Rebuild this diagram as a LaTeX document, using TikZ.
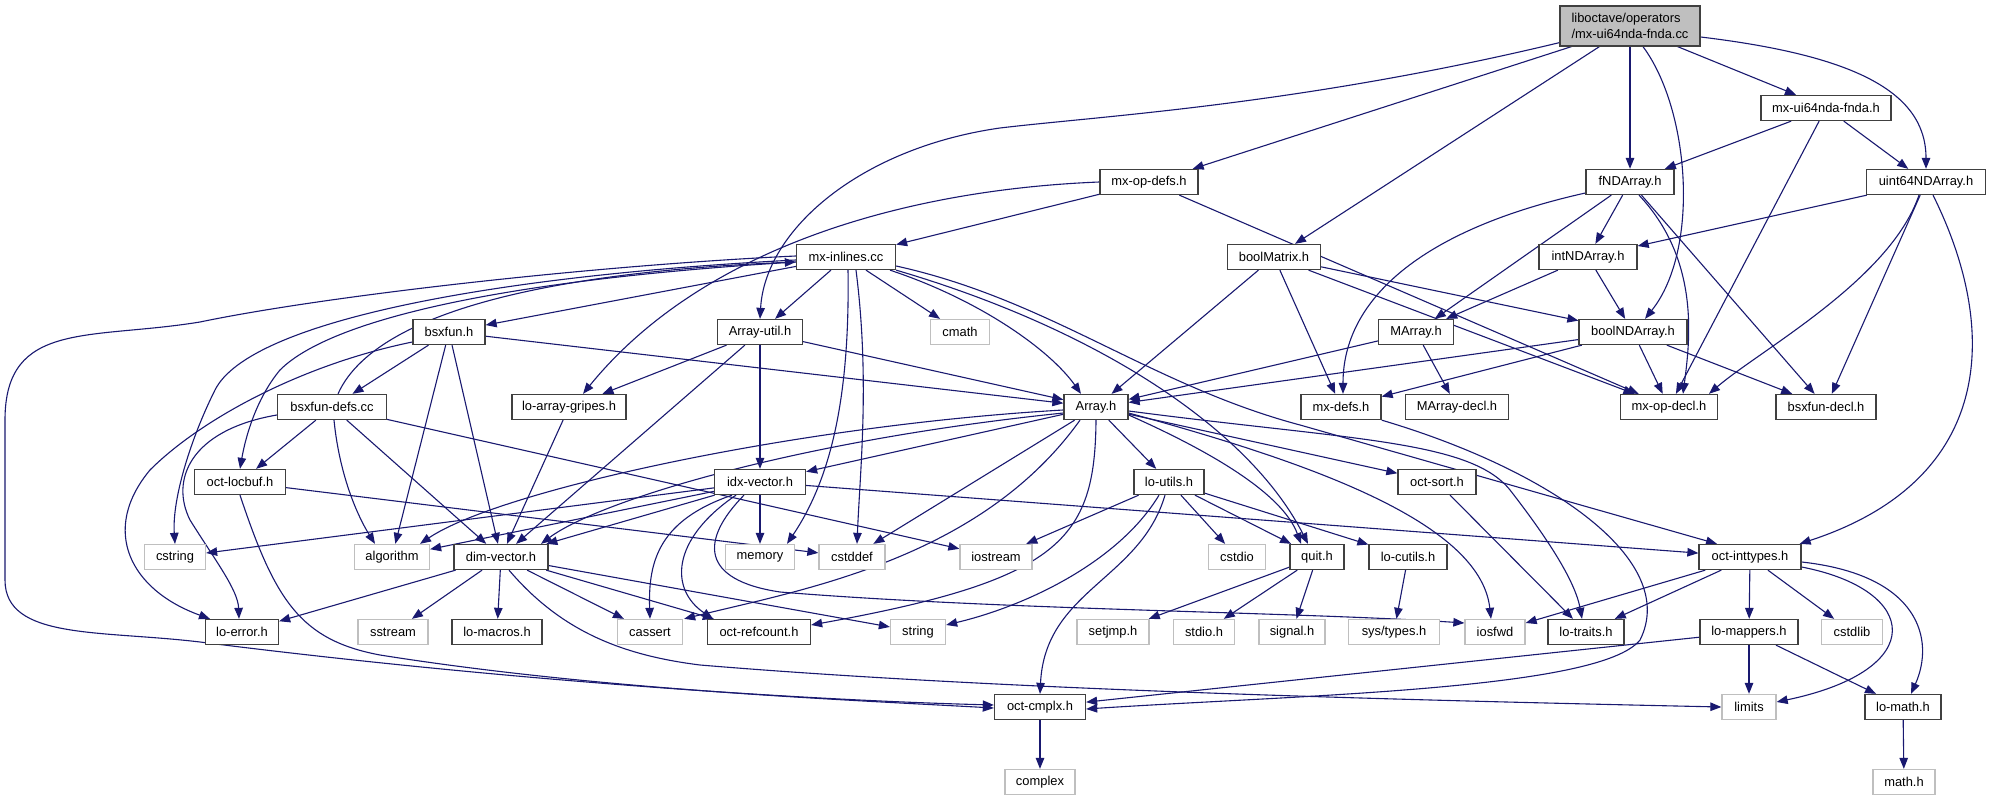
\documentclass[tikz,border=0pt]{standalone}
\usepackage{fontspec}
\setmainfont{Liberation Sans}
\usetikzlibrary{arrows.meta}
\definecolor{edgec}{RGB}{25,25,112}
\definecolor{nbord}{RGB}{64,64,64}
\definecolor{gbord}{RGB}{191,191,191}
\definecolor{rootfill}{RGB}{191,191,191}
\pgfdeclarelayer{bg}
\pgfsetlayers{bg,main}
\begin{document}
\begin{tikzpicture}[x=1pt,y=-1pt,
  hdr/.style={draw=nbord, line width=1.3pt, fill=white, minimum height=25pt, inner sep=0pt, font=\fontsize{12.9}{15.5}\selectfont},
  sys/.style={hdr, draw=gbord},
  e/.style={draw=edgec, line width=1.1pt, -{Triangle[length=11pt,width=8.5pt]}}]
\useasboundingbox (0,0) rectangle (1991,799);
% nodes
\node[hdr, fill=rootfill, minimum width=140pt, minimum height=40pt, align=left] (root) at (1630,26) {liboctave/operators\\/mx-ui64nda-fnda.cc};
\node[hdr, minimum width=130pt] (mxh) at (1826,108) {mx-ui64nda-fnda.h};
\node[hdr, minimum width=98pt] (mxopdefs) at (1149,182) {mx-op-defs.h};
\node[hdr, minimum width=88pt] (fnd) at (1630,182) {fNDArray.h};
\node[hdr, minimum width=119pt] (u64) at (1926,182) {uint64NDArray.h};
\node[hdr, minimum width=99pt] (mxinl) at (846,257) {mx-inlines.cc};
\node[hdr, minimum width=93pt] (boolm) at (1274,257) {boolMatrix.h};
\node[hdr, minimum width=98pt] (intnd) at (1588,257) {intNDArray.h};
\node[hdr, minimum width=72pt] (bsxfun) at (449,332) {bsxfun.h};
\node[hdr, minimum width=85pt] (arrutil) at (760,332) {Array-util.h};
\node[sys, minimum width=59pt] (cmath) at (960,332) {cmath};
\node[hdr, minimum width=75pt] (marray) at (1416,332) {MArray.h};
\node[hdr, minimum width=108pt] (boolnd) at (1633,332) {boolNDArray.h};
\node[hdr, minimum width=109pt] (bsxdefs) at (332,407) {bsxfun-defs.cc};
\node[hdr, minimum width=114pt] (gripes) at (569,407) {lo-array-gripes.h};
\node[hdr, minimum width=64pt] (arrayh) at (1096,407) {Array.h};
\node[hdr, minimum width=80pt] (mxdefs) at (1341,407) {mx-defs.h};
\node[hdr, minimum width=103pt] (marrdecl) at (1457,407) {MArray-decl.h};
\node[hdr, minimum width=97pt] (mxopdecl) at (1669,407) {mx-op-decl.h};
\node[hdr, minimum width=100pt] (bsxdecl) at (1826,407) {bsxfun-decl.h};
\node[hdr, minimum width=91pt] (locbuf) at (240,482) {oct-locbuf.h};
\node[hdr, minimum width=91pt] (idx) at (760,482) {idx-vector.h};
\node[hdr, minimum width=70pt] (loutils) at (1169,482) {lo-utils.h};
\node[hdr, minimum width=78pt] (octsort) at (1437,482) {oct-sort.h};
\node[sys, minimum width=61pt] (cstring) at (175,557) {cstring};
\node[sys, minimum width=75pt] (algorithm) at (392,557) {algorithm};
\node[hdr, minimum width=94pt] (dimvec) at (501,557) {dim-vector.h};
\node[sys, minimum width=69pt] (memory) at (760,557) {memory};
\node[sys, minimum width=66pt] (cstddef) at (852,557) {cstddef};
\node[sys, minimum width=72pt] (iostream) at (996,557) {iostream};
\node[sys, minimum width=57pt] (cstdio) at (1237,557) {cstdio};
\node[hdr, minimum width=54pt] (quit) at (1317,557) {quit.h};
\node[hdr, minimum width=78pt] (locutils) at (1408,557) {lo-cutils.h};
\node[hdr, minimum width=102pt] (inttypes) at (1750,557) {oct-inttypes.h};
\node[hdr, minimum width=73pt] (loerror) at (242,632) {lo-error.h};
\node[sys, minimum width=70pt] (sstream) at (393,632) {sstream};
\node[hdr, minimum width=90pt] (lomacros) at (497,632) {lo-macros.h};
\node[sys, minimum width=65pt] (cassert) at (650,632) {cassert};
\node[hdr, minimum width=103pt] (refcount) at (759,632) {oct-refcount.h};
\node[sys, minimum width=55pt] (string) at (918,632) {string};
\node[sys, minimum width=72pt] (setjmp) at (1113,632) {setjmp.h};
\node[sys, minimum width=61pt] (stdio) at (1204,632) {stdio.h};
\node[sys, minimum width=66pt] (signal) at (1292,632) {signal.h};
\node[sys, minimum width=91pt] (systypes) at (1394,632) {sys/types.h};
\node[sys, minimum width=60pt] (iosfwd) at (1495,632) {iosfwd};
\node[hdr, minimum width=76pt] (lotraits) at (1586,632) {lo-traits.h};
\node[hdr, minimum width=98pt] (lomappers) at (1749,632) {lo-mappers.h};
\node[sys, minimum width=61pt] (cstdlib) at (1852,632) {cstdlib};
\node[hdr, minimum width=91pt] (cmplx) at (1040,707) {oct-cmplx.h};
\node[sys, minimum width=54pt] (limits) at (1749,707) {limits};
\node[hdr, minimum width=76pt] (lomath) at (1903,707) {lo-math.h};
\node[sys, minimum width=70pt] (complex) at (1040,782) {complex};
\node[sys, minimum width=62pt] (mathh) at (1904,782) {math.h};
\begin{pgfonlayer}{bg}
\fill[white] (0,0) rectangle (1991,799);
% root
\draw[e] ([yshift=4pt]root.south west) .. controls (1300,105) and (1100,116) .. (1000,128) .. controls (860,148) and (765,230) .. (arrutil.north);
\draw[e] ([xshift=12pt]root.south west) -- ([xshift=-6pt]mxopdefs.north east);
\draw[e] ([xshift=40pt]root.south west) -- ([xshift=21pt]boolm.north);
\draw[e] (root) -- (fnd);
\draw[e] ([xshift=13pt]root.south) .. controls (1690,110) and (1700,250) .. ([xshift=12pt]boolnd.north);
\draw[e] ([xshift=-23pt]root.south east) -- ([xshift=-30pt]mxh.north);
\draw[e] ([yshift=-11pt]root.east) .. controls (1850,55) and (1926,90) .. (u64.north);
% mx-ui64nda-fnda.h
\draw[e] (mxh) -- (fnd);
\draw[e] (mxh) -- (mxopdecl);
\draw[e] (mxh) -- (u64);
% mx-op-defs.h
\draw[e] (mxopdefs) -- (mxinl);
\draw[e] (mxopdefs.west) .. controls (900,190) and (700,250) .. ([xshift=14pt]gripes.north);
\draw[e] (mxopdefs) -- (mxopdecl);
% fNDArray.h
\draw[e] (fnd) -- (intnd);
\draw[e] (fnd) -- (marray);
\draw[e] ([yshift=-11pt]fnd.west) .. controls (1420,230) and (1343,300) .. ([xshift=2pt]mxdefs.north);
\draw[e] ([xshift=9pt]fnd.south) .. controls (1700,260) and (1690,340) .. ([xshift=14pt]mxopdecl.north);
\draw[e] (fnd) -- (bsxdecl);
% uint64NDArray.h
\draw[e] (u64) -- (intnd);
\draw[e] ([xshift=-7pt]u64.south) .. controls (1890,280) and (1760,350) .. ([xshift=40pt]mxopdecl.north);
\draw[e] (u64) -- (bsxdecl);
\draw[e] ([xshift=7pt]u64.south) .. controls (2000,330) and (1995,480) .. ([xshift=-2pt]inttypes.north east);
% mx-inlines.cc
\draw[e] (mxinl) -- (bsxfun);
\draw[e] (mxinl) -- (arrutil);
\draw[e] (mxinl) -- (cmath);
\draw[e] ([xshift=44pt]mxinl.south) .. controls (980,300) and (1050,350) .. ([xshift=-15pt]arrayh.north);
\draw[e] ([xshift=2pt]mxinl.south) .. controls (850,400) and (830,480) .. ([xshift=27pt]memory.north);
\draw[e] ([xshift=10pt]mxinl.south) .. controls (870,380) and (860,470) .. ([xshift=5pt]cstddef.north);
\draw[e] (mxinl.south east) .. controls (1100,330) and (1250,430) .. ([xshift=-9pt]quit.north);
\draw[e] ([yshift=-9pt]mxinl.east) .. controls (1050,300) and (1150,385) .. (1300,425) -- ([xshift=-33pt]inttypes.north);
\draw[e] ([yshift=-5pt]mxinl.west) .. controls (500,280) and (330,320) .. (280,370) .. controls (255,400) and (245,440) .. (locbuf.north);
\draw[e] ([yshift=-3pt]mxinl.west) .. controls (500,275) and (250,320) .. (215,390) .. controls (190,440) and (172,500) .. (cstring.north);
\draw[e] ([yshift=1pt]mxinl.west) .. controls (600,265) and (330,295) .. (200,322) .. controls (90,340) and (5,320) .. (5,420) -- (5,580) .. controls (5,640) and (100,630) .. (200,642) .. controls (500,680) and (800,700) .. ([yshift=2pt]cmplx.west);
% boolMatrix.h
\draw[e] (boolm) -- (arrayh);
\draw[e] (boolm) -- (mxdefs);
\draw[e] (boolm) -- (mxopdecl);
\draw[e] (boolm) -- (boolnd);
% intNDArray.h
\draw[e] (intnd) -- (marray);
\draw[e] (intnd) -- (boolnd);
% bsxfun.h
\draw[e] (bsxfun) -- (arrayh);
\draw[e] (bsxfun) -- (bsxdefs);
\draw[e] (bsxfun) -- (algorithm);
\draw[e] (bsxfun) -- (dimvec);
\draw[e] ([yshift=-10pt]bsxfun.west) .. controls (300,365) and (200,420) .. (150,470) .. controls (100,530) and (130,590) .. ([xshift=-32pt]loerror.north);
% Array-util.h
\draw[e] (arrutil) -- (arrayh);
\draw[e] (arrutil) -- (gripes);
\draw[e] (arrutil) -- (dimvec);
\draw[e] (arrutil) -- (idx);
% MArray.h
\draw[e] (marray) -- (arrayh);
\draw[e] (marray) -- (marrdecl);
% boolNDArray.h
\draw[e] (boolnd) -- (arrayh);
\draw[e] (boolnd) -- (mxdefs);
\draw[e] (boolnd) -- (mxopdecl);
\draw[e] (boolnd) -- (bsxdecl);
% bsxfun-defs.cc
\draw[e] ([xshift=6pt]bsxdefs.north) .. controls (380,300) and (600,270) .. ([yshift=-5pt]mxinl.west);
\draw[e] (bsxdefs) -- (locbuf);
\draw[e] ([yshift=-8pt]bsxdefs.west) .. controls (190,430) and (170,480) .. (190,520) .. controls (215,560) and (238,590) .. ([xshift=-3pt]loerror.north);
\draw[e] ([xshift=2pt]bsxdefs.south) .. controls (340,480) and (360,520) .. ([xshift=-17pt]algorithm.north);
\draw[e] (bsxdefs) -- (dimvec);
\draw[e] (bsxdefs) -- (iostream);
% lo-array-gripes.h
\draw[e] (gripes) -- (dimvec);
% Array.h
\draw[e] (arrayh) -- (idx);
\draw[e] ([yshift=-3pt]arrayh.west) .. controls (800,425) and (500,490) .. ([xshift=28pt]algorithm.north);
\draw[e] ([yshift=-6pt]arrayh.west) .. controls (800,440) and (600,500) .. ([xshift=40pt]dimvec.north);
\draw[e] ([xshift=-16pt]arrayh.south) .. controls (980,560) and (800,590) .. ([xshift=1pt]cassert.north east);
\draw[e] (arrayh) -- (cstddef);
\draw[e] (arrayh.south) .. controls (1095,540) and (1060,580) .. ([yshift=7pt]refcount.east);
\draw[e] (arrayh) -- (loutils);
\draw[e] ([yshift=-8pt]arrayh.east) .. controls (1230,460) and (1285,500) .. ([xshift=-16pt]quit.north);
\draw[e] (arrayh) -- (octsort);
\draw[e] ([yshift=-6pt]arrayh.east) .. controls (1300,460) and (1480,520) .. ([xshift=-4pt]iosfwd.north);
\draw[e] ([yshift=-4pt]arrayh.east) .. controls (1350,440) and (1470,440) .. (1510,490) .. controls (1545,535) and (1575,580) .. ([xshift=-4pt]lotraits.north);
% mx-defs.h
\draw[e] (mxdefs.south east) .. controls (1550,470) and (1680,560) .. (1640,640) .. controls (1600,690) and (1300,695) .. ([yshift=-2pt]cmplx.east);
% oct-locbuf.h
\draw[e] (locbuf) -- (cstddef);
\draw[e] (locbuf.south) .. controls (275,600) and (300,640) .. (380,655) .. controls (600,690) and (850,700) .. ([yshift=-1pt]cmplx.west);
% idx-vector.h
\draw[e] (idx) -- (memory);
\draw[e] (idx) -- (cstring);
\draw[e] (idx) -- (algorithm);
\draw[e] (idx) -- (dimvec);
\draw[e] ([xshift=-28pt]idx.south) .. controls (660,520) and (648,560) .. (cassert.north);
\draw[e] ([xshift=-24pt]idx.south) .. controls (670,540) and (670,590) .. ([xshift=-46pt]refcount.north);
\draw[e] ([xshift=-16pt]idx.south) .. controls (700,540) and (700,580) .. (780,592) .. controls (1000,610) and (1300,612) .. ([yshift=9pt]iosfwd.west);
\draw[e] (idx) -- (inttypes);
% lo-utils.h
\draw[e] (loutils) -- (iostream);
\draw[e] (loutils) -- (cstdio);
\draw[e] (loutils) -- (quit);
\draw[e] (loutils) -- (locutils);
\draw[e] ([xshift=-10pt]loutils.south) .. controls (1120,560) and (1030,605) .. ([yshift=7pt]string.east);
\draw[e] ([xshift=-4pt]loutils.south) .. controls (1140,580) and (1045,590) .. (cmplx.north);
% oct-sort.h
\draw[e] (octsort) -- (lotraits);
% dim-vector.h
\draw[e] (dimvec) -- (loerror);
\draw[e] (dimvec) -- (sstream);
\draw[e] (dimvec) -- (lomacros);
\draw[e] (dimvec) -- (cassert);
\draw[e] (dimvec) -- (refcount);
\draw[e] (dimvec) -- (string);
\draw[e] ([xshift=8pt]dimvec.south) .. controls (560,630) and (620,655) .. (700,665) .. controls (1000,690) and (1400,700) .. (limits.west);
% quit.h
\draw[e] (quit) -- (setjmp);
\draw[e] (quit) -- (stdio);
\draw[e] (quit) -- (signal);
% lo-cutils.h
\draw[e] (locutils) -- (systypes);
% oct-inttypes.h
\draw[e] (inttypes) -- (iosfwd);
\draw[e] (inttypes) -- (lotraits);
\draw[e] (inttypes) -- (lomappers);
\draw[e] (inttypes) -- (cstdlib);
\draw[e] ([yshift=-10pt]inttypes.east) .. controls (1920,590) and (1930,670) .. ([yshift=5pt]limits.east);
\draw[e] ([yshift=-5pt]inttypes.east) .. controls (1920,575) and (1935,640) .. ([xshift=8pt]lomath.north);
% lo-mappers.h
\draw[e] (lomappers) -- (cmplx);
\draw[e] (lomappers) -- (limits);
\draw[e] (lomappers) -- (lomath);
% others
\draw[e] (lomath) -- (mathh);
\draw[e] (cmplx) -- (complex);
\end{pgfonlayer}
\end{tikzpicture}
\end{document}
